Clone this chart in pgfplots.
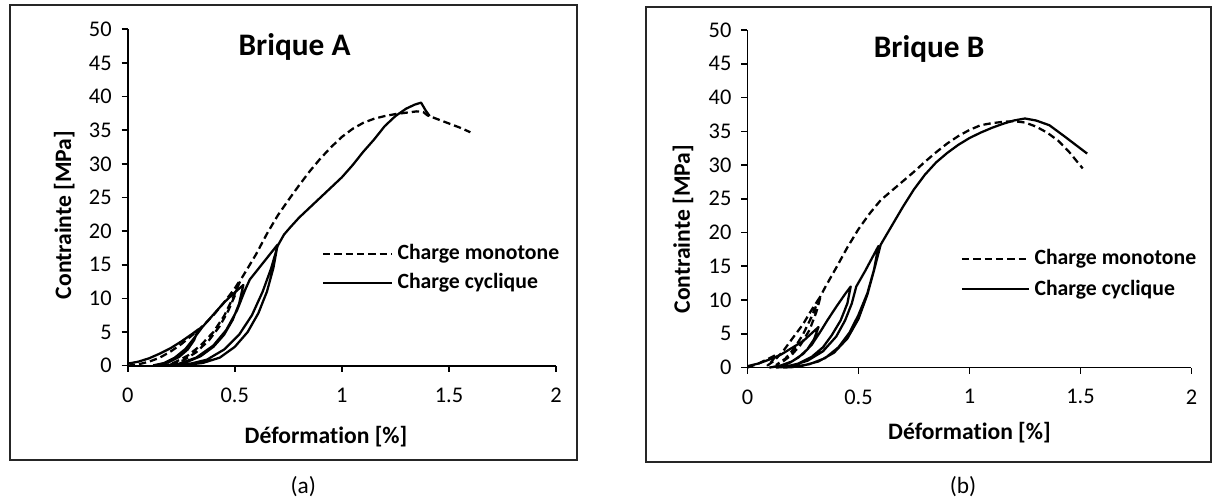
\documentclass[border=0pt]{standalone}
\usepackage{pgfplots}
\pgfplotsset{compat=1.18}
\usepackage{fontspec}
\setmainfont{Carlito}[Ligatures=NoCommon]

\pgfplotsset{
  brick/.style={
    scale only axis,
    axis lines=left,
    axis line style={-, line width=1.4pt},
    xmin=0, xmax=2, ymin=0, ymax=50,
    xtick={0,0.5,1,1.5,2},
    ytick={0,5,...,50},
    tick align=outside,
    major tick length=4.5pt,
    tick style={line width=1.2pt, black},
    /pgf/number format/assume math mode=true,
    ticklabel style={font=\fontsize{16.8}{20}\selectfont},
    yticklabel style={xshift=-4pt},
    xticklabel style={yshift=-8.5pt},
    label style={font=\bfseries\fontsize{17.7}{21}\selectfont},
    clip=false,
  },
}
\tikzset{
  mono/.style={black, line width=1.7pt, dash pattern=on 5.5pt off 3pt, line join=round},
  cyc/.style={black, line width=1.7pt, line join=round},
}

\begin{document}
\begin{tikzpicture}
\path (0,0) rectangle (909.75pt,374.25pt);
% frames and sub-captions
\draw[line width=1.2pt, black!85] (7.5pt,29.25pt) rectangle (432.75pt,370.5pt);
\draw[line width=1.2pt, black!85] (484.5pt,27.75pt) rectangle (908.25pt,369pt);
\node[font=\fontsize{17.5}{20}\selectfont] at (227.5pt,9pt) {(a)};
\node[font=\fontsize{17.5}{20}\selectfont] at (722.25pt,9pt) {(b)};

% ---- Brique A
\begin{axis}[brick,
  at={(95.8pt,99.98pt)}, anchor=south west,
  width=321.2pt, height=252.3pt,
  xlabel={Déformation [\%]}, ylabel={Contrainte [MPa]},
  xlabel style={at={(axis description cs:0.463,-0.212)}, anchor=center},
  ylabel style={at={(axis description cs:-0.148,0.448)}, anchor=center},
]
\addplot[mono] coordinates {
(0,0)(0.05,0.2)(0.1,0.6)(0.15,1.2)(0.2,2.1)(0.25,3.2)(0.3,4.5)(0.35,5.9)(0.4,7.5)(0.45,9.4)(0.5,11.5)(0.52,12.5)
(0.5,10.4)(0.47,8.2)(0.43,5.9)(0.38,3.8)(0.32,2.0)(0.26,0.8)(0.2,0.2)(0.17,0)
(0.22,0.5)(0.28,1.5)(0.34,3.0)(0.4,5.0)(0.45,7.4)(0.49,10.0)(0.53,12.9)(0.57,15.0)(0.6,16.6)(0.65,19.6)
(0.7,22.3)(0.75,24.6)(0.8,26.8)(0.85,28.9)(0.9,30.8)(0.95,32.5)(1.0,34.0)(1.05,35.2)(1.1,36.1)(1.15,36.7)
(1.2,37.1)(1.25,37.4)(1.3,37.6)(1.35,37.8)(1.38,37.7)(1.4,37.2)(1.45,36.6)(1.5,36.0)(1.55,35.4)(1.6,34.7)
};
\addplot[cyc] coordinates {
(0,0.3)(0.05,0.6)(0.1,1.1)(0.15,1.8)(0.2,2.6)(0.25,3.6)(0.3,4.7)(0.33,5.4)
(0.31,3.8)(0.28,2.4)(0.24,1.3)(0.19,0.5)(0.14,0.1)(0.12,0.05)
(0.17,0.4)(0.22,1.2)(0.27,2.5)(0.31,4.1)(0.35,5.8)(0.4,7.6)(0.45,9.4)(0.5,10.9)(0.54,12.0)
(0.52,9.2)(0.49,6.8)(0.45,4.6)(0.4,2.8)(0.34,1.4)(0.28,0.6)(0.22,0.15)(0.17,0)
(0.24,0.3)(0.32,1.2)(0.4,3.0)(0.46,5.3)(0.51,8.2)(0.55,11.4)(0.57,12.8)(0.62,14.8)(0.7,18.0)
(0.68,14.5)(0.65,11.0)(0.61,7.8)(0.56,5.0)(0.5,2.8)(0.43,1.2)(0.35,0.4)(0.25,0.05)(0.2,0)
(0.28,0.2)(0.37,0.9)(0.45,2.4)(0.52,4.6)(0.58,7.5)(0.63,11.0)(0.67,14.5)(0.7,17.8)(0.73,19.5)(0.76,20.6)
(0.8,22.0)(0.88,24.4)(0.95,26.5)(1.0,28.0)(1.05,29.8)(1.1,31.8)(1.15,33.6)(1.2,35.6)(1.25,37.1)(1.3,38.2)
(1.34,38.8)(1.37,39.1)(1.39,38.0)(1.41,37.1)
};
\node[font=\bfseries\fontsize{23.5}{28}\selectfont] at (axis cs:0.779,47.4) {Brique A};
\draw[mono] (axis cs:0.912,16.6) -- (axis cs:1.234,16.6)
  node[right, font=\bfseries\fontsize{16.3}{19}\selectfont] {Charge monotone};
\draw[cyc] (axis cs:0.912,12.3) -- (axis cs:1.234,12.3)
  node[right, font=\bfseries\fontsize{16.3}{19}\selectfont] {Charge cyclique};
\end{axis}

% ---- Brique B
\begin{axis}[brick,
  at={(560.6pt,98.6pt)}, anchor=south west,
  width=333pt, height=253.1pt,
  xlabel={Déformation [\%]}, ylabel={Contrainte [MPa]},
  xlabel style={at={(axis description cs:0.5,-0.193)}, anchor=center},
  ylabel style={at={(axis description cs:-0.145,0.41)}, anchor=center},
]
\addplot[mono] coordinates {
(0,0)(0.05,0.6)(0.1,1.4)(0.13,1.9)(0.11,0.9)(0.09,0.3)
(0.12,1.0)(0.16,2.4)(0.2,4.2)(0.25,6.4)(0.29,8.6)(0.33,10.6)
(0.31,8.2)(0.28,5.6)(0.24,3.4)(0.2,1.9)(0.16,0.9)(0.13,0.4)
(0.17,1.3)(0.21,2.8)(0.25,4.9)(0.29,7.6)(0.32,10.0)(0.35,11.9)(0.4,14.8)(0.45,17.8)(0.5,20.5)(0.55,22.8)
(0.6,24.8)(0.65,26.2)(0.7,27.6)(0.75,29.0)(0.8,30.5)(0.85,31.9)(0.9,33.2)(0.95,34.3)(1.0,35.2)(1.05,35.9)
(1.1,36.2)(1.15,36.4)(1.2,36.5)(1.25,36.3)(1.3,35.7)(1.35,34.8)(1.4,33.6)(1.45,31.9)(1.51,29.5)
};
\addplot[cyc] coordinates {
(0,0.2)(0.05,0.6)(0.1,1.2)(0.15,1.9)(0.2,2.9)(0.25,3.9)(0.32,6.0)
(0.3,4.2)(0.27,2.7)(0.23,1.5)(0.19,0.7)(0.14,0.2)(0.1,0)
(0.15,0.3)(0.2,0.9)(0.25,2.0)(0.29,3.4)(0.33,5.4)(0.36,7.0)(0.4,9.0)(0.44,10.9)(0.465,12.0)
(0.45,9.5)(0.42,7.0)(0.38,4.8)(0.34,3.0)(0.29,1.6)(0.23,0.6)(0.17,0.1)(0.13,0)
(0.2,0.3)(0.27,1.0)(0.34,2.4)(0.4,4.6)(0.44,7.0)(0.47,9.5)(0.49,12.0)(0.53,14.3)(0.59,18.0)
(0.57,14.5)(0.54,11.0)(0.5,7.8)(0.46,5.2)(0.41,3.0)(0.35,1.4)(0.28,0.5)(0.2,0.05)(0.16,0)
(0.24,0.2)(0.32,0.9)(0.39,2.2)(0.45,4.3)(0.5,7.2)(0.54,10.8)(0.57,14.4)(0.6,18.2)(0.65,21.0)
(0.7,23.8)(0.75,26.4)(0.8,28.6)(0.85,30.4)(0.9,31.8)(0.95,33.0)(1.0,34.0)(1.05,34.8)(1.1,35.5)
(1.15,36.1)(1.2,36.6)(1.25,36.9)(1.3,36.6)(1.36,35.9)(1.43,34.2)(1.53,31.7)
};
\node[font=\bfseries\fontsize{23.5}{28}\selectfont] at (axis cs:0.818,47.2) {Brique B};
\draw[mono] (axis cs:0.966,16.1) -- (axis cs:1.268,16.1)
  node[right, font=\bfseries\fontsize{16.3}{19}\selectfont] {Charge monotone};
\draw[cyc] (axis cs:0.966,11.6) -- (axis cs:1.268,11.6)
  node[right, font=\bfseries\fontsize{16.3}{19}\selectfont] {Charge cyclique};
\end{axis}
\end{tikzpicture}
\end{document}
